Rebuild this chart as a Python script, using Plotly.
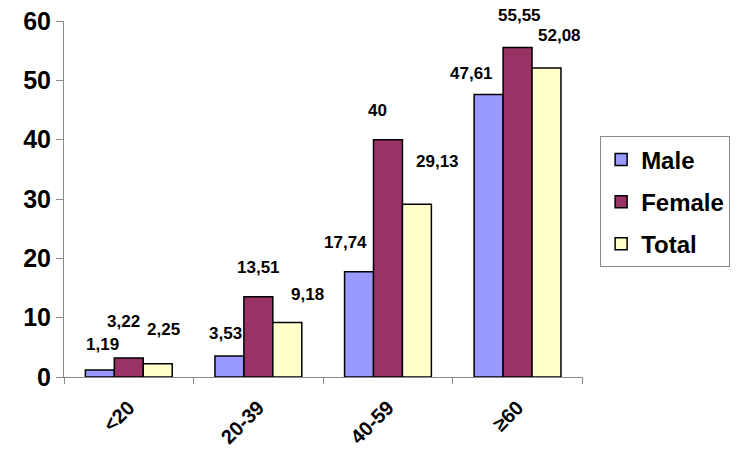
import plotly.graph_objects as go

categories = ["<20", "20-39", "40-59", "≥60"]
male = [1.19, 3.53, 17.74, 47.61]
female = [3.22, 13.51, 40, 55.55]
total = [2.25, 9.18, 29.13, 52.08]
series_names = ["Male", "Female", "Total"]
y_ticks = [0, 10, 20, 30, 40, 50, 60]

# label offsets (pixels) relative to bar top-centre, per series and category
label_dx = [[3, -4, -14, -17], [-5, 0, -10, 2], [6, 20, 21, 13]]
label_dy = [[25, 23, 29, 21], [36, 29, 29, 32], [34, 28, 43, 32]]

colors = ["#9999FF", "#993366", "#FFFFCC"]
FONT = "Liberation Sans, Arial, sans-serif"
bargap = 0.33

def fmt(v):
    s = ("%.2f" % v).rstrip("0").rstrip(".")
    return s.replace(".", ",")

fig = go.Figure()
all_series = [male, female, total]
for j, (name, vals) in enumerate(zip(series_names, all_series)):
    fig.add_trace(go.Bar(
        x=categories, y=vals, name=name,
        marker=dict(color=colors[j], line=dict(color="black", width=1.5)),
        legendgroup=name,
    ))

bw = (1 - bargap) / 3
for j, vals in enumerate(all_series):
    for i, v in enumerate(vals):
        fig.add_annotation(
            x=i + (j - 1) * bw, y=v, xref="x", yref="y",
            text=fmt(v), showarrow=False,
            xshift=label_dx[j][i], yshift=label_dy[j][i],
            font=dict(family=FONT, size=17, color="black", weight="bold"),
            yanchor="middle", xanchor="center",
        )

fig.update_layout(
    width=742, height=452,
    margin=dict(l=64, r=159, t=21, b=75, autoexpand=False),
    paper_bgcolor="white", plot_bgcolor="white",
    barmode="group", bargap=bargap, bargroupgap=0,
    showlegend=True,
    legend=dict(
        x=1.033, y=0.676, xanchor="left", yanchor="top",
        bordercolor="#888888", borderwidth=1,
        font=dict(family=FONT, size=24, color="black", weight="bold"),
        tracegroupgap=8, itemclick=False,
    ),
    font=dict(family=FONT, color="black"),
)
fig.update_xaxes(
    type="category", showline=True, linecolor="#888888", linewidth=1,
    ticks="outside", tickson="boundaries", ticklen=6, tickcolor="#888888",
    tickangle=-45, showgrid=False, automargin=False, ticklabelstandoff=10,
    tickfont=dict(family=FONT, size=20, color="black", weight="bold"),
)
fig.update_yaxes(
    range=[0, 60], tickvals=y_ticks, showline=True, linecolor="#888888", linewidth=1,
    ticks="outside", ticklen=7, tickcolor="#888888", showgrid=False, zeroline=False,
    automargin=False,
    tickfont=dict(family=FONT, size=25, color="black", weight="bold"),
)

fig.write_html(
    "out.html",
    config={"displayModeBar": False},
    post_script="document.body.style.margin='0';document.body.style.overflow='hidden';",
)
